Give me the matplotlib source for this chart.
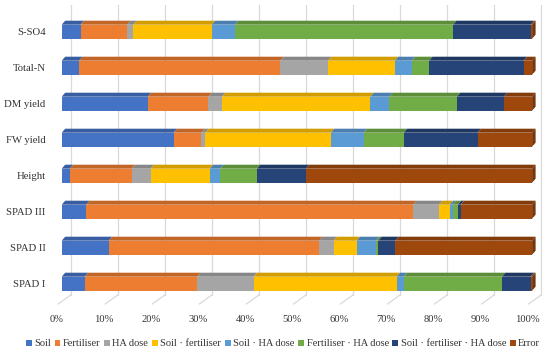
import numpy as np
import matplotlib.pyplot as plt
from matplotlib.patches import Polygon, Patch
import matplotlib.colors as mcolors

categories = ['S-SO4', 'Total-N', 'DM yield', 'FW yield', 'Height',
              'SPAD III', 'SPAD II', 'SPAD I']
series = ['Soil', 'Fertiliser', 'HA dose', 'Soil · fertiliser', 'Soil · HA dose',
          'Fertiliser · HA dose', 'Soil · fertiliser · HA dose', 'Error']

# share of variance (%) per factor, rows follow categories
soil       = [4.0, 3.7, 18.3, 23.8, 1.7, 5.2, 10.0, 4.9]
fert       = [9.9, 42.8, 12.9, 5.9, 13.2, 69.5, 44.7, 23.9]
ha_dose    = [1.3, 10.1, 2.9, 0.8, 4.0, 5.5, 3.1, 12.0]
soil_fert  = [16.7, 14.2, 31.5, 26.7, 12.6, 2.3, 4.9, 30.4]
soil_ha    = [4.9, 3.6, 4.0, 7.0, 2.2, 0.6, 4.1, 1.5]
fert_ha    = [46.4, 3.7, 14.4, 8.5, 7.8, 1.1, 0.5, 20.9]
soil_fert_ha = [16.5, 20.1, 10.0, 15.7, 10.4, 0.6, 3.6, 6.1]
error      = [0.3, 1.8, 6.0, 11.6, 48.1, 15.2, 29.1, 0.3]

ticks = [0, 10, 20, 30, 40, 50, 60, 70, 80, 90, 100]
tick_labels = ['%d%%' % t for t in ticks]

colors = ['#4472C4', '#ED7D31', '#A5A5A5', '#FFC000', '#5B9BD5',
          '#70AD47', '#264478', '#9E480E']

data = np.array([soil, fert, ha_dose, soil_fert, soil_ha, fert_ha,
                 soil_fert_ha, error])

plt.rcParams['font.family'] = ['Liberation Serif', 'DejaVu Serif']

fig = plt.figure(figsize=(5.5, 3.55), dpi=100)
ax = fig.add_axes([0, 0, 1, 1])
px = 4.704  # pixels per percent on the front face
ax.set_xlim(-61.7 / px, (550 - 61.7) / px)
ax.set_ylim(355, 0)
ax.axis('off')

# 3d look
dx = 3.5 / px
dy = -4.0
bar_h = 14
ypos = 31.7 + 36 * np.arange(len(categories))


def darker(c, f=0.8):
    r, g, b = mcolors.to_rgb(c)
    return (r * f, g * f, b * f)


# gridlines (back wall + floor)
back = 9.0 / px
for t in ticks:
    xb = t + back
    ax.plot([xb, xb], [5, 295], color='#D9D9D9', lw=0.9, zorder=1)
    ax.plot([xb, xb - 12.5 / px], [295, 304], color='#D9D9D9', lw=0.9, zorder=1)

for t, lab in zip(ticks, tick_labels):
    ax.text(t - 1.0, 320, lab, ha='center', va='center', fontsize=7.6,
            color='#333333')

left = np.zeros(len(categories))
for j in range(len(series)):
    vals = data[j]
    ax.barh(ypos, vals, left=left, height=bar_h, color=colors[j],
            linewidth=0, zorder=3)
    for i in range(len(categories)):
        x0 = left[i]
        x1 = left[i] + vals[i]
        top = ypos[i] - bar_h / 2
        ax.add_patch(Polygon([(x0, top), (x0 + dx, top + dy), (x1 + dx, top + dy),
                              (x1, top)], closed=True, color=darker(colors[j], 0.82),
                             lw=0, zorder=3))
    left = left + vals

# right side of each bar
for i in range(len(categories)):
    top = ypos[i] - bar_h / 2
    bot = ypos[i] + bar_h / 2
    ax.add_patch(Polygon([(100, bot), (100 + dx, bot + dy), (100 + dx, top + dy),
                          (100, top)], closed=True, color=darker(colors[7], 0.75),
                         lw=0, zorder=3))

for i, cat in enumerate(categories):
    ax.text(-3.4, ypos[i] + 1, cat, ha='right', va='center', fontsize=7.7,
            color='#333333')

handles = [Patch(facecolor=c, edgecolor='none') for c in colors]
fig.legend(handles, series, loc='center', bbox_to_anchor=(283 / 550, 1 - 344 / 355),
           ncol=8, frameon=False, fontsize=7.5, handlelength=0.55, handleheight=0.6,
           handletextpad=0.25, columnspacing=0.35, labelcolor='#333333',
           borderpad=0, borderaxespad=0)

fig.savefig('out.png', dpi=100)
